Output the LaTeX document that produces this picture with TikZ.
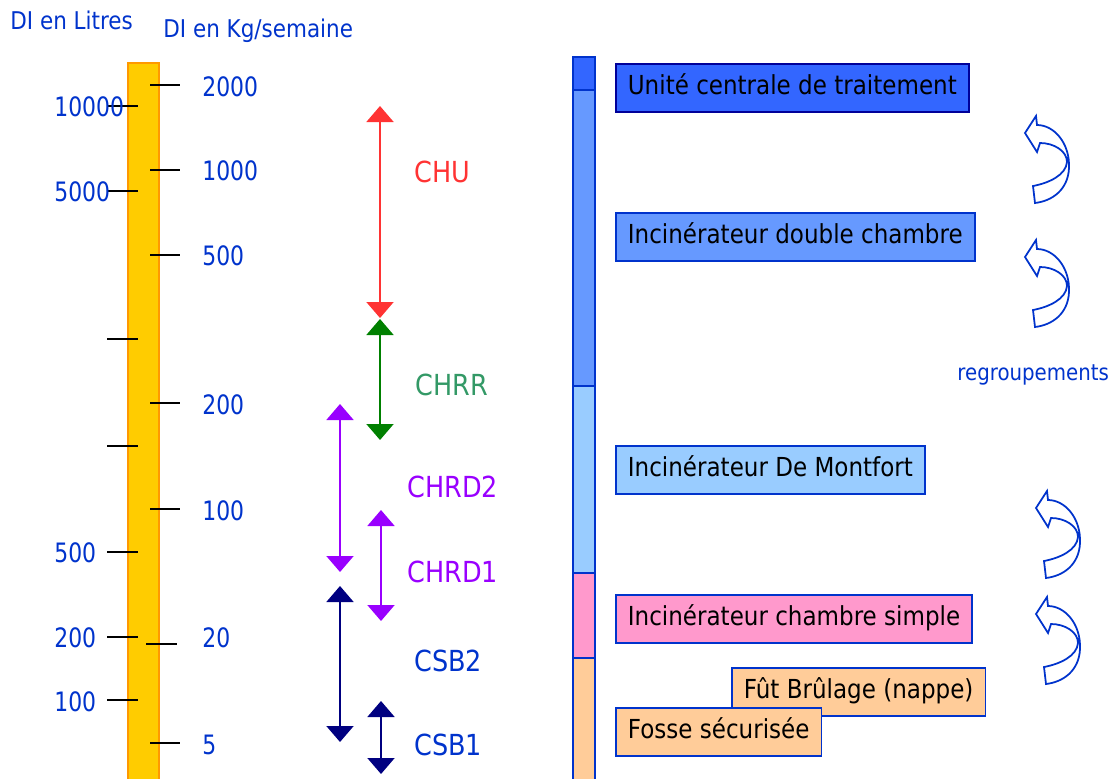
\documentclass[tikz,border=0pt]{standalone}
\usepackage{fontspec}
\setmainfont{DejaVu Sans}[FakeStretch=0.88]
\newfontfamily\numfont{DejaVu Sans}[FakeStretch=0.82]
\usepackage{tikz}
\usetikzlibrary{arrows.meta}

\definecolor{txtblue}{HTML}{0033CC}
\definecolor{chured}{HTML}{FF3333}
\definecolor{chrrgreen}{HTML}{008000}
\definecolor{chrrtext}{HTML}{339966}
\definecolor{chrdpurple}{HTML}{9900FF}
\definecolor{csbnavy}{HTML}{000080}
\definecolor{barorange}{HTML}{FF9900}
\definecolor{baryellow}{HTML}{FFCC00}
\definecolor{ucblue}{HTML}{3366FF}
\definecolor{dcblue}{HTML}{6699FF}
\definecolor{mfblue}{HTML}{99CCFF}
\definecolor{cspink}{HTML}{FF99CC}
\definecolor{fspeach}{HTML}{FFCC99}
\definecolor{ucborder}{HTML}{000099}

\begin{document}
\begin{tikzpicture}[x=0.02cm, y=-0.02cm,
    scalelbl/.style={anchor=west, inner sep=0pt, text=txtblue, font=\numfont\fontsize{15.2}{18}\selectfont},
    rangelbl/.style={anchor=west, inner sep=0pt, font=\fontsize{16.5}{20}\selectfont},
    tick/.style={line width=1.1pt, black},
    rng/.style={line width=1.1pt, {Triangle[width=0.54cm,length=0.32cm]}-{Triangle[width=0.54cm,length=0.32cm]}},
    seg/.style={draw=txtblue, line width=0.8pt},
    treatbox/.style={draw=txtblue, line width=1pt, anchor=north west, inner xsep=0.24cm, inner ysep=0pt,
        minimum height=0.96cm, text height=0.38cm, text depth=0.1cm, font=\fontsize{14.9}{18}\selectfont},
    regroup/.pic={
        \draw[txtblue, line width=1pt, fill=white]
            (1,18) -- (12,1) -- (13,10)
            .. controls (30,10) and (46,28) .. (45,53)
            .. controls (44,75) and (28,86) .. (11,88)
            -- (9,71)
            .. controls (25,68) and (42,60) .. (43,47)
            .. controls (43,36) and (30,28) .. (16,28)
            -- (13,37) -- cycle;
    }]
    \useasboundingbox (0,0) rectangle (1119,778);

    % Scale headings
    \node[anchor=west, inner sep=0pt, text=txtblue, font=\fontsize{13.9}{16}\selectfont] (litres) at (10,20.5) {DI en Litres};
    \node[anchor=base west, inner sep=0pt, text=txtblue, font=\fontsize{13.9}{16}\selectfont] (kgsem) at (163,37) {DI en Kg/semaine};

    % Yellow scale bar
    \draw[fill=baryellow, draw=barorange, line width=0.6pt] (128,63) rectangle (159,790);

    % Ticks in Kg/semaine
    \draw[tick] (150,85) -- (180,85);
    \draw[tick] (150,170) -- (180,170);
    \draw[tick] (150,255) -- (180,255);
    \draw[tick] (150,403) -- (180,403);
    \draw[tick] (150,509) -- (180,509);
    \draw[tick] (146,644) -- (177,644);
    \draw[tick] (150,743) -- (180,743);
    \node[scalelbl] (k2000) at (202,87) {2000};
    \node[scalelbl] (k1000) at (202,171) {1000};
    \node[scalelbl] (k500) at (202,256) {500};
    \node[scalelbl] (k200) at (202,405) {200};
    \node[scalelbl] (k100) at (202,511) {100};
    \node[scalelbl] (k20) at (202,638) {20};
    \node[scalelbl] (k5) at (202,745) {5};

    % Ticks in Litres
    \draw[tick] (107,106) -- (138,106);
    \draw[tick] (107,191) -- (138,191);
    \draw[tick] (107,339) -- (138,339);
    \draw[tick] (107,446) -- (138,446);
    \draw[tick] (107,552) -- (138,552);
    \draw[tick] (107,637) -- (138,637);
    \draw[tick] (107,700) -- (138,700);
    \node[scalelbl] (l10000) at (54,107) {10000};
    \node[scalelbl] (l5000) at (54,192) {5000};
    \node[scalelbl] (l500) at (54,553) {500};
    \node[scalelbl] (l200) at (54,638) {200};
    \node[scalelbl] (l100) at (54,702) {100};

    % Ranges of the structures
    \coordinate (chuT) at (380,106);
    \coordinate (chuB) at (380,318);
    \coordinate (chrrT) at (380,319);
    \coordinate (chrrB) at (380,440);
    \coordinate (chrdiiT) at (340,404);
    \coordinate (chrdiiB) at (340,572);
    \coordinate (chrdiT) at (381,510);
    \coordinate (chrdiB) at (381,621);
    \coordinate (csbiiT) at (340,586);
    \coordinate (csbiiB) at (340,742);
    \coordinate (csbiT) at (381,701);
    \coordinate (csbiB) at (381,774);
    \draw[rng, chured] (chuT) -- (chuB);
    \draw[rng, chrrgreen] (chrrT) -- (chrrB);
    \draw[rng, chrdpurple] (chrdiiT) -- (chrdiiB);
    \draw[rng, chrdpurple] (chrdiT) -- (chrdiB);
    \draw[rng, csbnavy] (csbiiT) -- (csbiiB);
    \draw[rng, csbnavy] (csbiT) -- (csbiB);
    \node[rangelbl, text=chured] (chu) at (414,172) {CHU};
    \node[rangelbl, text=chrrtext] (chrr) at (415,385) {CHRR};
    \node[rangelbl, text=chrdpurple] (chrdii) at (407,487) {CHRD2};
    \node[rangelbl, text=chrdpurple] (chrdi) at (407,572) {CHRD1};
    \node[rangelbl, text=txtblue] (csbii) at (414,661) {CSB2};
    \node[rangelbl, text=txtblue] (csbi) at (414,745) {CSB1};

    % Treatment bar
    \draw[seg, fill=ucblue] (573,57) rectangle (595,90);
    \draw[seg, fill=dcblue] (573,90) rectangle (595,386);
    \draw[seg, fill=mfblue] (573,386) rectangle (595,573);
    \draw[seg, fill=cspink] (573,573) rectangle (595,658);
    \draw[seg, fill=fspeach] (573,658) rectangle (595,790);

    % Treatment boxes
    \node[treatbox, fill=ucblue, draw=ucborder] (uct) at (615,63) {Unité centrale de traitement};
    \node[treatbox, fill=dcblue] (idc) at (615,212) {Incinérateur double chambre};
    \node[treatbox, fill=mfblue] (idm) at (615,445) {Incinérateur De Montfort};
    \node[treatbox, fill=cspink] (ics) at (615,594) {Incinérateur chambre simple};
    \node[treatbox, fill=fspeach] (fbn) at (731,667) {Fût Brûlage (nappe)};
    \node[treatbox, fill=fspeach] (fss) at (615,707) {Fosse sécurisée};

    % Regroupements
    \pic at (1024,115) {regroup};
    \pic at (1024,239) {regroup};
    \pic at (1035,490) {regroup};
    \pic at (1035,596) {regroup};
    \node[anchor=west, inner sep=0pt, text=txtblue, font=\fontsize{12.8}{15}\selectfont] (regr) at (957,375) {regroupements};
\end{tikzpicture}
\end{document}
